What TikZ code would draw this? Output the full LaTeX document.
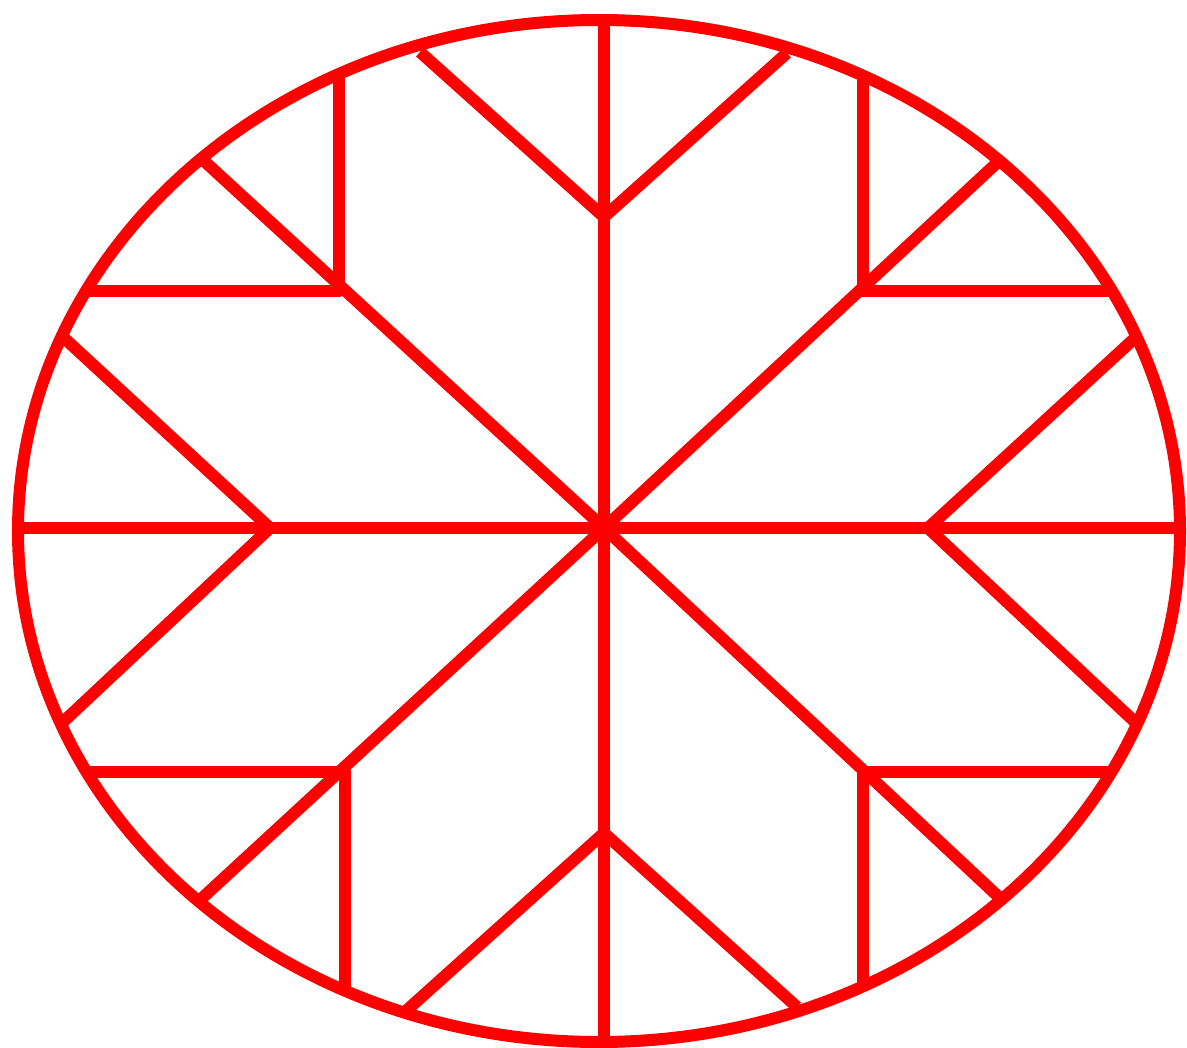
\documentclass[tikz,border=0pt]{standalone}
\usepackage{tikz}

\tikzset{
  rim/.style={draw=red, line width=0.12cm},
  spoke/.style={draw=red, line width=0.12cm, line join=round}
}

\begin{document}
\begin{tikzpicture}[x=0.01cm, y=-0.01cm]
\useasboundingbox (0,0) rectangle (1187,1048);
% Outer rim
\draw[rim] (599,531) ellipse [x radius=581, y radius=511];

% Centre and main spokes
\coordinate (c) at (604,528);
\coordinate (top) at (604,20);
\coordinate (bot) at (604,1042);
\coordinate (lft) at (18,528);
\coordinate (rgt) at (1180,528);
\coordinate (ul) at (203,160);
\coordinate (ur) at (999,161);
\coordinate (ll) at (200,900);
\coordinate (lr) at (1002,900);
\draw[spoke] (top) -- (bot);
\draw[spoke] (lft) -- (rgt);
\draw[spoke] (ul) -- (c) -- (lr);
\draw[spoke] (ur) -- (c) -- (ll);

% Branches on the straight spokes
\coordinate (jt) at (604,217);
\coordinate (jb) at (604,833);
\coordinate (jl) at (270,528);
\coordinate (jr) at (928,528);
\draw[spoke] (420,52) coordinate (jt1) -- (jt) -- (787,53) coordinate (jt2);
\draw[spoke] (407,1010) coordinate (jb1) -- (jb) -- (797,1007) coordinate (jb2);
\draw[spoke] (63,337) coordinate (jl1) -- (jl) -- (63,722) coordinate (jl2);
\draw[spoke] (1135,338) coordinate (jr1) -- (jr) -- (1135,722) coordinate (jr2);

% Branches on the diagonal spokes
\coordinate (dul) at (339,291);
\coordinate (dur) at (863,291);
\coordinate (dll) at (345,772);
\coordinate (dlr) at (863,772);
\draw[spoke] (339,78) coordinate (dul1) -- (dul) -- (88,291) coordinate (dul2);
\draw[spoke] (863,80) coordinate (dur1) -- (dur) -- (1110,291) coordinate (dur2);
\draw[spoke] (345,993) coordinate (dll1) -- (dll) -- (90,772) coordinate (dll2);
\draw[spoke] (863,985) coordinate (dlr1) -- (dlr) -- (1112,772) coordinate (dlr2);
\end{tikzpicture}
\end{document}
